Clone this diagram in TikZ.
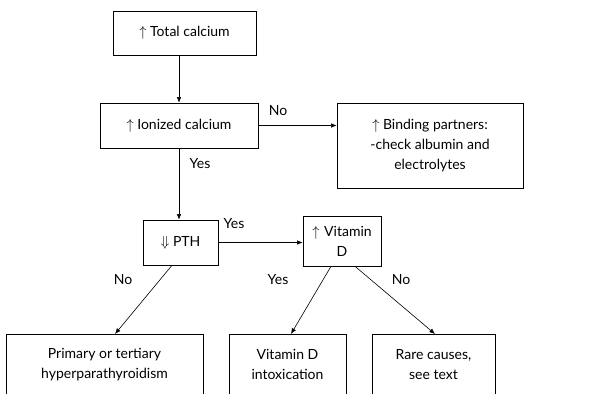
\documentclass[tikz,border=0pt]{standalone}
\usepackage{fontspec}
\setmainfont{Lato}
\usetikzlibrary{arrows.meta,positioning}
\tikzset{
  every node/.style={font=\fontsize{14}{20}\selectfont},
  box/.style={draw, semithick, align=center, inner sep=2pt},
  arr/.style={-{Latex[length=2mm,width=1.6mm]}, semithick},
  lbl/.style={inner sep=1pt},
}
\begin{document}
\begin{tikzpicture}[x=1pt,y=-1pt]
\useasboundingbox (0,0) rectangle (609,393);
\clip (0,0) rectangle (609,393);

% --- top of the chart ---
\node[box, minimum width=143, minimum height=44] (total) at (184.5,33) {$\uparrow$ Total calcium};
\node[box, minimum width=158, minimum height=45] (ionized) at (179,125.5) {$\uparrow$ Ionized calcium};
\node[box, minimum width=186, minimum height=85] (binding) at (430,145.5)
  {$\uparrow$ Binding partners:\\-check albumin and\\electrolytes};

% --- middle row ---
\node[box, minimum width=75, minimum height=45] (pth) at (180.5,242.5) {$\Downarrow$ PTH};
\node[box, text width=76, minimum height=50, inner sep=1pt] (vitd) at (342,241) {$\uparrow$ Vitamin\\D};

% --- bottom row (runs off the page) ---
\node[box, minimum width=197, minimum height=60, anchor=north] (primary) at (104.5,334)
  {Primary or tertiary\\hyperparathyroidism};
\node[box, minimum width=117, minimum height=60, anchor=north] (intox) at (287.5,334)
  {Vitamin D\\intoxication};
\node[box, minimum width=123, minimum height=60, anchor=north] (rare) at (433.5,334)
  {Rare causes,\\see text};

% --- connectors ---
\draw[arr] (total.south -| ionized.north) -- (ionized.north);
\draw[arr] (ionized.east) -- (binding.west |- ionized.east);
\draw[arr] (ionized.south) -- (ionized.south |- pth.north);
\draw[arr] (pth.east) -- (vitd.west |- pth.east);
\draw[arr] ([xshift=-8.5]pth.south) -- ([xshift=10.5]primary.north);
\draw[arr] ([xshift=-11]vitd.south) -- ([xshift=3.5]intox.north);
\draw[arr] ([xshift=13]vitd.south) -- ([xshift=1.5]rare.north);

% --- branch labels ---
\node[lbl] (noion) at (278,111) {No};
\node[lbl] (yesion) at (200,164) {Yes};
\node[lbl] (yespth) at (234,224) {Yes};
\node[lbl] (nopth) at (123,280) {No};
\node[lbl] (yesvit) at (278,280) {Yes};
\node[lbl] (novit) at (401,280) {No};

\end{tikzpicture}
\end{document}
